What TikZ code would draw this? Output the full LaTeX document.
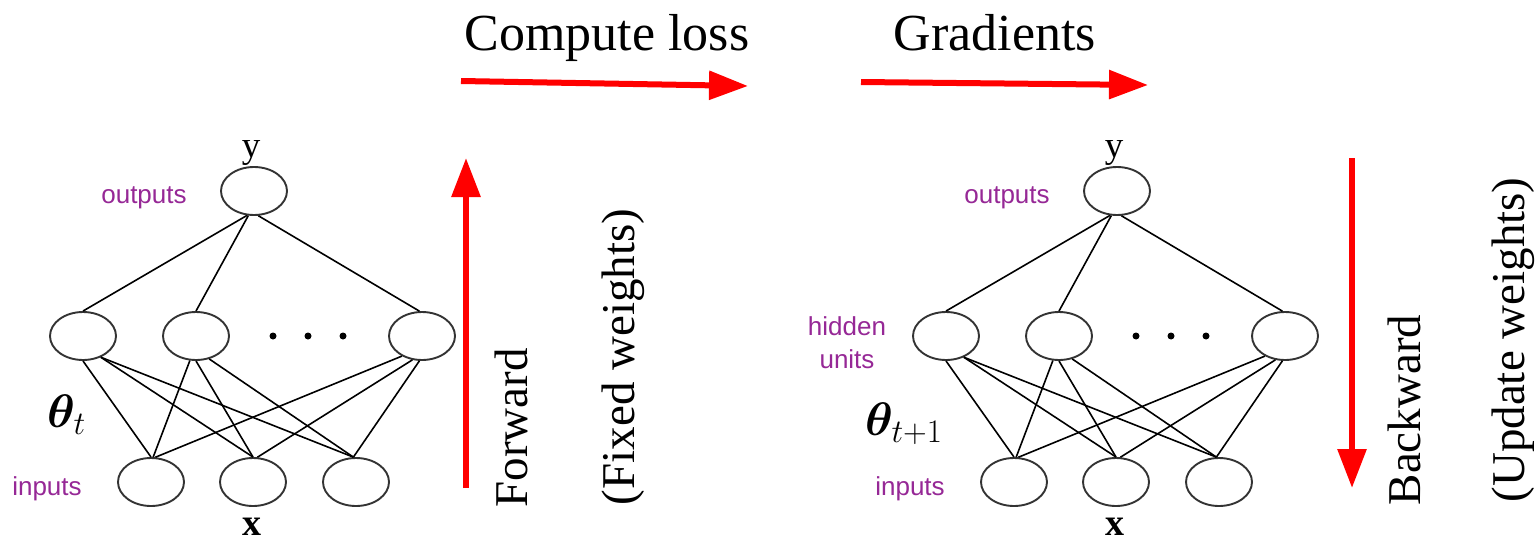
\documentclass[tikz,border=0pt]{standalone}
\usepackage{fix-cm}
\usepackage{bm}
\usepackage{fontspec}
\setmainfont{Liberation Serif}
\newfontfamily\unitfont{Liberation Sans}
\usetikzlibrary{shapes.geometric,arrows.meta}

\definecolor{unitpurple}{RGB}{150,40,150}
\definecolor{flowred}{RGB}{255,0,0}

\tikzset{
  neuron/.style={ellipse, draw=black!80, line width=1.9pt,
    minimum width=66pt, minimum height=48pt, inner sep=0pt},
  wire/.style={line width=1.6pt, draw=black},
  hdot/.style={circle, fill=black, inner sep=0pt, minimum size=7pt},
  unitlabel/.style={font=\unitfont\fontsize{26}{33}\selectfont,
    text=unitpurple, inner sep=0pt, anchor=base, align=center},
  flow/.style={draw=flowred, line width=6pt,
    -{Triangle[length=39pt,width=28pt]}},
  caption/.style={font=\fontsize{52}{60}\selectfont, inner sep=0pt, anchor=base},
  sidecaption/.style={font=\fontsize{47}{56}\selectfont, inner sep=0pt,
    anchor=base, rotate=90},
  varlabel/.style={font=\fontsize{37}{44}\selectfont, inner sep=0pt, anchor=base},
  veclabel/.style={font=\bfseries\fontsize{38}{44}\selectfont, inner sep=0pt, anchor=base},
  paramlabel/.style={font=\fontsize{47}{56}\selectfont, inner sep=0pt, anchor=base west},
}

\begin{document}
\begin{tikzpicture}[x=1pt, y=-1pt]
  \fill[white] (0,0) rectangle (1539,541);
  \useasboundingbox (0,0) rectangle (1539,541);

  % two copies of the same three-layer network
  \foreach \p/\s in {L/0, R/863} {
    \begin{scope}[xshift=\s]
      \node[neuron] (\p out) at (254,191) {};
      \node[neuron] (\p h1) at (83,336) {};
      \node[neuron] (\p h2) at (196,336) {};
      \node[neuron] (\p h3) at (422,336) {};
      \node[neuron] (\p in1) at (151,482) {};
      \node[neuron] (\p in2) at (253,482) {};
      \node[neuron] (\p in3) at (356,482) {};

      \node[hdot] (\p d1) at (273,336) {};
      \node[hdot] (\p d2) at (308,336) {};
      \node[hdot] (\p d3) at (343,336) {};

      % output layer to hidden layer
      \draw[wire] (\p out.-106) -- (\p h1.north);
      \draw[wire] (\p out.-103) -- (\p h2.north);
      \draw[wire] (\p out.-80) -- (\p h3.96);

      % hidden layer to input layer
      \draw[wire] (\p h1.south) -- (\p in1.north);
      \draw[wire] (\p h1.-50) -- (\p in2.north);
      \draw[wire] (\p h1.-50) -- (\p in3.96);
      \draw[wire] (\p h2.-104) -- (\p in1.85);
      \draw[wire] (\p h2.south) -- (\p in2.north);
      \draw[wire] (\p h2.-60) -- (\p in3.96);
      \draw[wire] (\p h3.-135) -- (\p in1.80);
      \draw[wire] (\p h3.-112) -- (\p in2.80);
      \draw[wire] (\p h3.-96) -- (\p in3.96);

      \node[varlabel] (\p y) at (251,157) {y};
      \node[veclabel] (\p x) at (252,535) {x};
      \node[unitlabel] (\p outlbl) at (144,203) {outputs};
      \node[unitlabel] (\p inlbl) at (47,495) {inputs};
    \end{scope}
  }

  \node[unitlabel] (hidlbl) at (847,335) {hidden};
  \node[unitlabel] (unitslbl) at (847,368) {units};

  \node[paramlabel] (thetaL) at (47,427) {$\bm{\theta}_t$};
  \node[paramlabel] (thetaR) at (865,435) {$\bm{\theta}_{t+1}$};

  % top captions and their arrows
  \node[caption] (loss) at (607,50) {Compute loss};
  \node[caption] (grad) at (995,50) {Gradients};
  \coordinate (lossA) at (461,81);
  \coordinate (lossB) at (748,86);
  \coordinate (gradA) at (861,82);
  \coordinate (gradB) at (1148,85);
  \draw[flow] (lossA) -- (lossB);
  \draw[flow] (gradA) -- (gradB);

  % forward pass
  \coordinate (fwdA) at (466,488);
  \coordinate (fwdB) at (466,158);
  \draw[flow] (fwdA) -- (fwdB);
  \node[sidecaption] (fwd) at (527,428) {Forward};
  \node[sidecaption] (fixed) at (634,357) {(Fixed weights)};

  % backward pass
  \coordinate (bwdA) at (1352,158);
  \coordinate (bwdB) at (1352,488);
  \draw[flow] (bwdA) -- (bwdB);
  \node[sidecaption] (bwd) at (1420,410) {Backward};
  \node[sidecaption] (upd) at (1524,340) {(Update weights)};
\end{tikzpicture}
\end{document}
